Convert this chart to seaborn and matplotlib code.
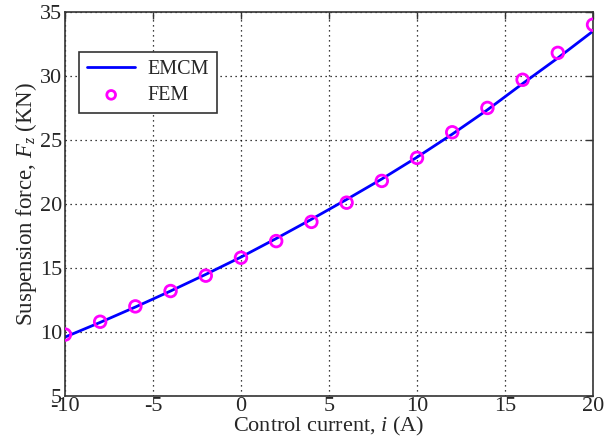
import matplotlib
matplotlib.use("Agg")
import matplotlib.pyplot as plt
import seaborn as sns
import pandas as pd

current = [-10, -8, -6, -4, -2, 0, 2, 4, 6, 8, 10, 12, 14, 16, 18, 20]
emcm = [9.6, 10.75, 11.95, 13.2, 14.5, 15.85, 17.3, 18.8, 20.35, 21.95, 23.65, 25.45, 27.35, 29.4, 31.4, 33.5]
fem = [9.8, 10.8, 12.0, 13.2, 14.4, 15.8, 17.1, 18.6, 20.1, 21.8, 23.6, 25.6, 27.5, 29.7, 31.8, 34.0]
xticks = [-10, -5, 0, 5, 10, 15, 20]
yticks = [5, 10, 15, 20, 25, 30, 35]

df = pd.DataFrame({"i": current, "EMCM": emcm, "FEM": fem})

sns.set_style("white")
plt.rcParams["font.family"] = ["Liberation Serif", "DejaVu Serif"]
plt.rcParams["mathtext.fontset"] = "custom"
plt.rcParams["mathtext.rm"] = "Liberation Serif"
plt.rcParams["mathtext.it"] = "Liberation Serif:italic"

fig = plt.figure(figsize=(6.07, 4.41), dpi=100)
ax = fig.add_axes([0.107, 0.102, 0.870, 0.871])

sns.lineplot(data=df, x="i", y="EMCM", ax=ax, color=(0, 0, 1), linewidth=2, label="EMCM")
sns.scatterplot(data=df, x="i", y="FEM", ax=ax, marker="o", s=70, facecolor="none",
                edgecolor="#ff00ff", linewidth=2, label="FEM", zorder=3)

ax.set_xlim(-10, 20)
ax.set_ylim(5, 35)
ax.set_xticks(xticks)
ax.set_yticks(yticks)
ax.set_xticklabels([str(t) for t in xticks])
ax.set_yticklabels([str(t) for t in yticks])
ax.tick_params(direction="in", length=5, width=1, color="#333333", labelsize=16,
               top=True, right=True, pad=2)
ax.tick_params(axis="x", pad=1)
ax.grid(True, linestyle=(0, (1, 3)), color="black", linewidth=0.9)
for s in ax.spines.values():
    s.set_color("#333333")
    s.set_linewidth(1.2)

ax.set_xlabel("Control current, $i$ (A)", fontsize=16, labelpad=-1)
ax.set_ylabel("Suspension force, $F_z$ (KN)", fontsize=16.5, labelpad=1)

leg = ax.legend(loc="upper left", bbox_to_anchor=(0.0265, 0.896), borderaxespad=0,
                fontsize=14.5, frameon=True, fancybox=False, edgecolor="#333333",
                framealpha=1, handlelength=2.4, borderpad=0.4, labelspacing=0.35,
                handletextpad=0.6, markerscale=0.75)
leg.get_frame().set_linewidth(1.2)

fig.savefig("out.png", dpi=100)
